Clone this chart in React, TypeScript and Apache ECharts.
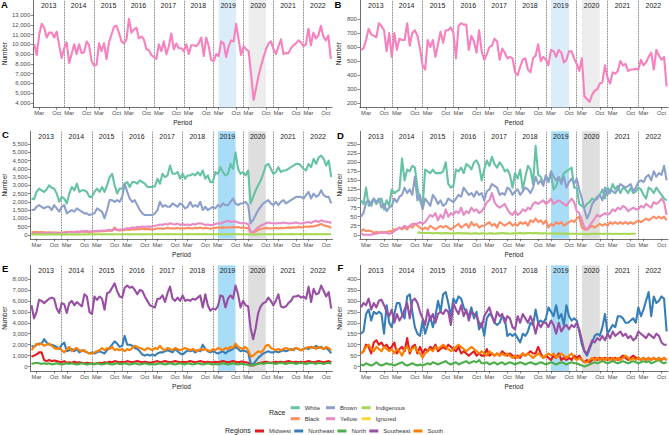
import React, { useEffect, useRef } from 'react';
import * as echarts from 'echarts';

// ---------- categories / tick labels ----------
const YEARS = ['2013', '2014', '2015', '2016', '2017', '2018', '2019', '2020', '2021', '2022'];
const MONTH_NAMES = ['Jan', 'Feb', 'Mar', 'Apr', 'May', 'Jun', 'Jul', 'Aug', 'Sep', 'Oct', 'Nov', 'Dec'];
const MONTH_TICK_NAMES = ['Mar', 'Oct'];
// period index: 0 = Jan 2013 ... 119 = Dec 2022
const PERIOD = YEARS.flatMap((_, y) => MONTH_NAMES.map((_, m) => y * 12 + m));
const MONTH_TICK_POS = YEARS.flatMap((_, y) => MONTH_TICK_NAMES.map((n) => y * 12 + MONTH_NAMES.indexOf(n)));
const MAR_POS = YEARS.map((_, y) => y * 12 + MONTH_NAMES.indexOf('Mar'));
const OCT_POS = YEARS.map((_, y) => y * 12 + MONTH_NAMES.indexOf('Oct'));
const YEAR_BOUNDS = YEARS.slice(1).map((_, k) => (k + 1) * 12);
const YEAR_CENTERS = YEARS.map((_, k) => k * 12 + 5.8);
const HL_2019 = [74, 81]; // Mar-Oct 2019
const HL_2020 = [86, 93]; // Mar-Oct 2020

const A_TICKS = [4000, 5000, 6000, 7000, 8000, 9000, 10000, 11000, 12000, 13000];
const B_TICKS = [200, 300, 400, 500, 600, 700, 800];
const C_TICKS = [0, 500, 1000, 1500, 2000, 2500, 3000, 3500, 4000, 4500, 5000, 5500];
const D_TICKS = [0, 25, 50, 75, 100, 125, 150, 175, 200, 225, 250];
const E_TICKS = [0, 1000, 2000, 3000, 4000, 5000, 6000, 7000, 8000];
const F_TICKS = [0, 50, 100, 150, 200, 250, 300, 350, 400];

// ---------- values ----------
const A_TOTAL = [
  10000, 8900, 11000, 12100, 11700, 10700, 11200, 11200, 10700, 11300, 9900, 8600,
  9600, 10200, 8100, 9000, 10000, 9000, 10000, 9100, 9200, 10300, 9900, 8300,
  7800, 7900, 10100, 9300, 10100, 8500, 10200, 11000, 11800, 11900, 11200, 10300,
  10100, 10500, 12600, 11200, 11500, 11700, 10600, 10800, 10500, 9500, 9400, 8900,
  8700, 8500, 10000, 9300, 10300, 9000, 9800, 11100, 9500, 10100, 9600, 9600,
  9300, 10000, 9000, 9900, 9900, 9800, 10100, 10700, 8800, 10700, 9800, 8400,
  8300, 9000, 8800, 10300, 10100, 8700, 9800, 10400, 10300, 12100, 10500, 8900,
  9800, 9500, 9300, 7000, 4300, 5500, 6800, 7800, 8700, 9500, 10100, 10300,
  9500, 9000, 9800, 10500, 9000, 9100, 9100, 9600, 9900, 10100, 10400, 10200,
  9800, 10000, 11600, 9900, 11200, 10600, 10900, 11900, 10800, 10400, 10900, 8500,
];
const B_TOTAL = [
  580, 590, 650, 730, 690, 680, 670, 770, 750, 720, 570, 700,
  530, 700, 580, 660, 650, 650, 770, 610, 700, 720, 680, 590,
  470, 440, 650, 600, 650, 530, 620, 710, 630, 720, 720, 740,
  700, 520, 750, 770, 760, 760, 580, 680, 640, 560, 720, 570,
  510, 550, 600, 610, 660, 640, 510, 590, 560, 520, 530, 520,
  420, 400, 460, 510, 520, 440, 420, 520, 540, 620, 500, 530,
  510, 470, 580, 570, 530, 580, 560, 490, 510, 570, 570, 520,
  480, 430, 520, 250, 230, 210, 260, 290, 300, 340, 350, 470,
  380, 340, 420, 410, 430, 500, 470, 480, 430, 440, 440, 445,
  440, 510, 470, 490, 530, 560, 440, 580, 540, 510, 530, 320,
];

const C_WHITE = [
  2200, 2150, 2600, 2800, 2700, 2600, 2750, 3000, 2850, 2800, 2500, 2000,
  2300, 2200, 1900, 2500, 2900, 2700, 3100, 2600, 2700, 2700, 2600, 2300,
  2300, 2600, 2800, 2600, 2900, 2600, 3000, 3500, 3700, 3000, 2500, 2800,
  2800, 3100, 3200, 2900, 3200, 3200, 3100, 3300, 3200, 3100, 2900, 2900,
  2900, 2950, 3400, 3100, 3700, 3500, 3600, 4200, 3700, 3700, 3800, 3400,
  3700, 3400, 3600, 3600, 3700, 3600, 3800, 3600, 3900, 3400, 3600, 3200,
  3200, 3800, 3700, 4100, 3800, 3600, 3700, 4300, 4000, 5000, 4000, 3700,
  3800, 3600, 3900, 1900, 2300, 2700, 3000, 3300, 3700, 4200, 4300, 4000,
  3700, 3800, 4100, 3800, 3900, 3900, 4000, 4100, 4200, 4300, 4300, 4200,
  4000, 3900, 4300, 4100, 4600, 4300, 4700, 4800, 4600, 4200, 4500, 3500,
];
const C_BLACK = [
  150, 160, 170, 150, 160, 150, 140, 150, 130, 140, 130, 120,
  130, 150, 160, 170, 180, 170, 190, 180, 200, 190, 180, 170,
  180, 200, 210, 200, 230, 220, 250, 260, 240, 450, 280, 260,
  280, 300, 320, 300, 340, 320, 350, 330, 380, 340, 360, 330,
  320, 350, 380, 400, 360, 380, 420, 380, 400, 380, 420, 360,
  400, 380, 420, 400, 380, 420, 400, 440, 380, 420, 400, 360,
  400, 420, 440, 420, 450, 430, 460, 440, 480, 450, 470, 430,
  450, 420, 400, 150, 130, 200, 300, 350, 380, 420, 400, 380,
  400, 420, 380, 420, 400, 430, 450, 420, 460, 440, 480, 450,
  470, 500, 480, 520, 500, 550, 600, 650, 580, 540, 500, 420,
];
const C_BROWN = [
  1500, 1500, 1700, 1800, 1700, 1600, 1700, 1700, 1500, 1800, 1600, 1400,
  1700, 1800, 1300, 1400, 1500, 1400, 1600, 1500, 1400, 1300, 1300, 1200,
  1250, 1300, 1600, 1500, 1400, 1000, 1500, 2100, 2100, 2000, 2100, 2000,
  2300, 3100, 2600, 2200, 2000, 2100, 1800, 1500, 1300, 1200, 1200, 1200,
  1200, 1300, 1500, 2000, 1700, 1800, 1700, 1700, 1900, 1800, 1700, 1900,
  1800, 1600, 1700, 2000, 1700, 1800, 1700, 2000, 1500, 1700, 1500, 1600,
  1700, 1600, 1800, 1700, 1900, 1800, 1800, 2000, 2200, 1900, 1800, 1900,
  1900, 2000, 1800, 700, 900, 1200, 1500, 1700, 1900, 2000, 2100, 1900,
  1800, 2000, 1800, 2000, 2100, 1900, 2000, 2100, 2200, 2300, 2300, 2300,
  2200, 2400, 2600, 2200, 2500, 2300, 2400, 2700, 2400, 2300, 2300, 1900,
];
const C_YELLOW = [
  50, 80, 100, 90, 110, 100, 120, 110, 100, 120, 100, 90,
  110, 120, 140, 150, 160, 170, 180, 170, 200, 210, 220, 200,
  210, 220, 250, 230, 260, 240, 280, 300, 280, 330, 300, 320,
  330, 350, 400, 380, 450, 420, 480, 450, 500, 470, 520, 480,
  500, 550, 580, 620, 600, 650, 620, 700, 650, 620, 680, 600,
  650, 600, 620, 580, 650, 620, 680, 700, 650, 600, 620, 580,
  600, 650, 700, 680, 750, 800, 850, 780, 820, 800, 750, 700,
  720, 700, 650, 200, 150, 300, 450, 550, 620, 700, 750, 720,
  700, 680, 720, 700, 750, 720, 680, 700, 720, 750, 700, 680,
  720, 750, 780, 720, 800, 850, 780, 880, 820, 800, 780, 700,
];
const C_INDIGENOUS = [
  20, 25, 20, 30, 25, 20, 25, 30, 20, 25, 30, 25,
  25, 30, 25, 20, 30, 25, 30, 25, 20, 30, 25, 30,
  30, 25, 35, 30, 25, 30, 35, 30, 25, 30, 35, 30,
  30, 35, 30, 25, 35, 30, 35, 30, 25, 30, 35, 30,
  30, 35, 40, 30, 35, 30, 40, 35, 30, 35, 30, 35,
  35, 30, 40, 35, 30, 35, 40, 35, 30, 40, 35, 30,
  35, 30, 35, 40, 35, 30, 35, 40, 35, 30, 35, 30,
  30, 35, 30, 15, 15, 20, 25, 30, 35, 30, 35, 30,
  35, 30, 35, 40, 35, 30, 35, 40, 35, 30, 35, 40,
  35, 40, 35, 30, 35, 40, 35, 30, 35, 40, 35, 30,
];
const C_IGNORED: number[] = [];

const D_WHITE = [
  95, 85, 130, 80, 90, 100, 85, 95, 100, 70, 95, 80,
  125, 115, 120, 125, 210, 150, 180, 175, 190, 185, 130, 95,
  75, 180, 175, 170, 180, 170, 170, 170, 175, 200, 140, 130,
  135, 180, 175, 185, 170, 195, 190, 180, 200, 205, 190, 150,
  180, 205, 190, 215, 195, 185, 200, 190, 175, 180, 165, 130,
  170, 155, 180, 125, 160, 190, 180, 140, 245, 165, 160, 140,
  160, 150, 165, 125, 135, 155, 150, 170, 175, 180, 185, 130,
  130, 85, 80, 75, 85, 90, 100, 95, 105, 110, 125, 100,
  130, 115, 140, 125, 135, 115, 130, 125, 115, 130, 115, 120,
  130, 125, 110, 100, 130, 125, 115, 130, 120, 110, 100, 95,
];
const D_BLACK = [
  10, 15, 10, 12, 10, 5, 8, 6, 8, 5, 8, 10,
  10, 15, 15, 20, 15, 20, 15, 25, 20, 30, 25, 20,
  15, 20, 15, 25, 20, 15, 20, 25, 20, 25, 20, 15,
  20, 25, 30, 20, 25, 30, 20, 35, 25, 30, 20, 25,
  25, 30, 35, 25, 30, 20, 35, 30, 25, 30, 35, 25,
  30, 25, 35, 30, 35, 25, 40, 35, 45, 35, 40, 30,
  40, 20, 30, 25, 35, 30, 35, 25, 30, 35, 40, 35,
  45, 50, 20, 15, 15, 20, 25, 20, 25, 30, 25, 30,
  25, 35, 30, 35, 30, 35, 30, 35, 30, 35, 30, 35,
  40, 35, 40, 45, 40, 45, 50, 45, 50, 45, 50, 40,
];
const D_BROWN = [
  50, 60, 90, 95, 80, 100, 90, 100, 75, 85, 65, 75,
  80, 100, 90, 105, 110, 130, 115, 125, 110, 160, 95, 110,
  70, 100, 90, 80, 110, 100, 85, 95, 80, 85, 100, 95,
  90, 100, 110, 105, 130, 120, 110, 115, 105, 120, 110, 115,
  95, 120, 125, 140, 135, 130, 110, 115, 110, 130, 125, 110,
  120, 125, 110, 120, 130, 125, 115, 130, 160, 140, 150, 135,
  165, 145, 175, 160, 150, 160, 140, 160, 130, 145, 155, 140,
  155, 125, 100, 70, 45, 60, 85, 95, 100, 110, 95, 130,
  110, 125, 120, 115, 125, 140, 135, 130, 135, 140, 120, 130,
  145, 150, 145, 160, 165, 150, 175, 160, 170, 165, 190, 150,
];
const D_YELLOW = [
  5, 0, 0, 0, 0, 2, 3, 5, 5, 8, 5, 3,
  5, 10, 15, 20, 18, 25, 20, 25, 30, 30, 30, 35,
  30, 35, 45, 55, 50, 60, 40, 55, 45, 70, 50, 60,
  55, 65, 60, 75, 55, 65, 60, 75, 65, 70, 60, 65,
  75, 90, 95, 115, 90, 80, 75, 80, 85, 70, 60, 55,
  65, 55, 60, 70, 65, 75, 70, 85, 90, 85, 90, 95,
  85, 90, 100, 85, 90, 95, 90, 85, 80, 90, 100, 90,
  65, 60, 40, 20, 15, 25, 35, 45, 55, 50, 55, 60,
  55, 60, 70, 65, 75, 70, 80, 75, 65, 70, 75, 70,
  70, 80, 75, 85, 80, 75, 90, 85, 90, 100, 90, 55,
];
const D_INDIGENOUS: (number | null)[] = [
  null, null, null, null, null, null, null, null, null, null, null, null,
  null, null, null, null, null, null, null, null, null, null, 6, 6,
  5, 5, 5, 5, 4, 5, 5, 4, 4, 5, 4, 4,
  4, 4, 5, 4, 4, 4, 4, 3, 4, 4, 3, 4,
  4, 3, 4, 4, 3, 4, 4, 5, 4, 4, 3, 4,
  4, 4, 5, 4, 4, 5, 5, 4, 5, 4, 4, 4,
  4, 3, 4, 4, 3, 4, 3, 3, 4, 3, 3, 3,
  3, 3, 3, 2, 2, 2, 3, 3, 2, 3, 3, 3,
  3, 3, 2, 3, 3, 2, 3, 3, 2, 3, 3, 3,
  null, null, null, null, null, null, null, null, null, null, null, null,
];

const E_MIDWEST = [
  900, 1000, 1100, 1300, 1300, 600, 500, 600, 500, 550, 500, 450,
  400, 500, 350, 400, 350, 450, 350, 400, 350, 300, 350, 300,
  300, 250, 300, 350, 300, 400, 350, 450, 400, 500, 450, 400,
  450, 400, 500, 450, 400, 450, 500, 450, 400, 450, 400, 350,
  400, 450, 500, 400, 450, 500, 450, 400, 450, 500, 450, 400,
  450, 400, 450, 500, 450, 400, 450, 500, 450, 400, 450, 400,
  400, 450, 400, 450, 500, 450, 400, 450, 500, 450, 400, 450,
  450, 400, 350, 100, 100, 200, 300, 350, 400, 450, 400, 350,
  400, 450, 400, 450, 400, 450, 500, 450, 400, 450, 400, 450,
  400, 450, 500, 450, 400, 450, 500, 450, 400, 450, 500, 400,
];
const E_NORTHEAST = [
  1900, 1800, 2000, 2100, 2100, 2500, 2200, 2000, 2000, 1900, 1800, 1600,
  2000, 2200, 1400, 1500, 1600, 1400, 1600, 1300, 1500, 1400, 1300, 1200,
  1300, 1200, 1300, 1400, 1300, 1200, 1500, 1700, 2000, 2300, 2100, 1800,
  1900, 2800, 2000, 2000, 1900, 1700, 1600, 1400, 1100, 1000, 1100, 1000,
  1100, 1000, 1200, 1300, 1300, 1400, 1500, 1400, 1300, 1600, 1400, 1200,
  1100, 1300, 1500, 1400, 1500, 1300, 1500, 1400, 2000, 1600, 1400, 1300,
  1400, 1300, 1200, 1300, 1400, 1200, 1400, 1500, 1600, 1800, 1600, 1400,
  1500, 1400, 1300, 300, 200, 500, 800, 1000, 1200, 1300, 1400, 1300,
  1300, 1400, 1300, 1400, 1500, 1400, 1500, 1600, 1500, 1700, 1600, 1500,
  1600, 1700, 1600, 1800, 1700, 1900, 1700, 1800, 1600, 1700, 1500, 1200,
];
const E_NORTH = [
  250, 300, 350, 300, 250, 300, 250, 300, 200, 250, 300, 250,
  200, 250, 300, 250, 300, 250, 200, 250, 300, 250, 200, 250,
  250, 200, 300, 250, 200, 250, 300, 250, 200, 250, 300, 250,
  250, 300, 250, 200, 250, 300, 250, 200, 250, 300, 250, 200,
  250, 200, 250, 300, 250, 200, 250, 300, 250, 200, 250, 300,
  250, 200, 300, 250, 200, 250, 300, 250, 200, 250, 300, 250,
  200, 250, 200, 250, 300, 250, 200, 250, 300, 250, 200, 250,
  250, 200, 150, 100, 150, 200, 250, 300, 250, 300, 350, 300,
  300, 250, 300, 350, 300, 250, 300, 350, 300, 250, 300, 350,
  300, 250, 300, 350, 300, 250, 350, 300, 250, 300, 350, 250,
];
const E_SOUTHEAST = [
  5600, 4400, 5000, 6100, 6000, 5800, 6000, 6200, 6300, 6200, 5300, 4900,
  5800, 5700, 4900, 5800, 6000, 5600, 5900, 5700, 5500, 6600, 6400, 5000,
  4800, 6400, 6100, 6400, 6200, 5200, 6700, 6800, 7200, 7600, 6900, 6400,
  6300, 7200, 7400, 7200, 7300, 7000, 6600, 7000, 6900, 6400, 6000, 5600,
  5500, 5400, 6200, 6200, 6500, 5900, 6700, 7300, 6200, 6000, 6300, 6000,
  6500, 6000, 6100, 6000, 6200, 6100, 6300, 6500, 5400, 6600, 5600, 5100,
  5300, 5200, 5500, 6500, 6400, 5400, 6200, 6500, 6200, 7400, 6600, 5400,
  6000, 5600, 5500, 3500, 2500, 3500, 4900, 5500, 5800, 5900, 6300, 6000,
  5600, 6000, 6600, 5500, 5400, 5500, 5800, 6000, 6400, 6400, 6500, 6300,
  6400, 6200, 7300, 5900, 7100, 6600, 6700, 7400, 6900, 6400, 6800, 5300,
];
const E_SOUTH = [
  1500, 1800, 2100, 2000, 2100, 1900, 2000, 2100, 1900, 1700, 1600, 1700,
  1500, 1300, 1600, 1800, 1400, 1600, 1700, 1500, 1400, 1500, 1300, 1200,
  1200, 1300, 1400, 1500, 1700, 1500, 1700, 1600, 1800, 1500, 1600, 1500,
  1600, 1400, 1600, 1500, 1700, 1900, 1800, 1700, 1600, 1500, 1700, 1600,
  1500, 1700, 1600, 1900, 1600, 1500, 1700, 1600, 1500, 1700, 1600, 1500,
  1600, 1700, 1600, 1500, 1600, 1500, 1400, 1600, 1500, 1600, 1500, 1400,
  1600, 1500, 1700, 1600, 1500, 1700, 1600, 1800, 1700, 2100, 1800, 1700,
  1600, 1800, 1500, 900, 1000, 1200, 1400, 1300, 1500, 1900, 2000, 1700,
  1600, 1500, 1600, 1500, 1600, 1700, 1600, 1500, 1600, 1700, 1600, 1500,
  1600, 1700, 1800, 1700, 1800, 1600, 1800, 1700, 1600, 1800, 1700, 1500,
];

const F_MIDWEST = [
  60, 70, 100, 90, 60, 110, 120, 100, 110, 90, 100, 80,
  90, 110, 60, 80, 90, 70, 130, 60, 90, 100, 60, 90,
  60, 80, 70, 90, 80, 100, 70, 80, 90, 80, 100, 90,
  80, 70, 90, 60, 70, 60, 50, 60, 70, 50, 60, 50,
  50, 80, 50, 60, 50, 60, 50, 70, 60, 50, 60, 50,
  40, 50, 40, 60, 50, 60, 70, 60, 60, 90, 60, 40,
  50, 40, 30, 50, 40, 60, 30, 40, 30, 40, 30, 50,
  40, 50, 30, 20, 30, 20, 30, 40, 30, 40, 30, 40,
  30, 40, 30, 40, 30, 40, 50, 40, 30, 40, 50, 40,
  40, 30, 40, 30, 40, 30, 40, 30, 40, 30, 40, 30,
];
const F_NORTHEAST = [
  150, 160, 240, 260, 210, 250, 240, 250, 240, 150, 280, 200,
  180, 240, 290, 290, 240, 220, 320, 330, 250, 180, 150, 140,
  210, 150, 190, 230, 180, 230, 300, 250, 330, 340, 290, 230,
  310, 290, 320, 310, 270, 250, 230, 270, 220, 250, 170, 200,
  140, 220, 240, 230, 200, 190, 200, 230, 220, 140, 150, 140,
  150, 130, 110, 150, 140, 160, 200, 190, 260, 200, 210, 200,
  220, 270, 250, 230, 280, 220, 240, 190, 280, 230, 210, 220,
  210, 160, 100, 70, 50, 80, 110, 140, 150, 140, 180, 240,
  150, 170, 190, 180, 230, 230, 220, 200, 200, 210, 220, 200,
  270, 230, 260, 300, 340, 230, 320, 290, 300, 320, 310, 160,
];
const F_NORTH = [
  10, 5, 15, 10, 5, 10, 20, 10, 5, 10, 15, 10,
  10, 5, 10, 15, 20, 10, 5, 10, 15, 10, 5, 10,
  5, 10, 15, 10, 20, 15, 10, 15, 20, 25, 15, 10,
  15, 20, 10, 15, 20, 25, 15, 20, 25, 20, 30, 15,
  15, 20, 10, 15, 20, 10, 15, 20, 10, 15, 20, 15,
  10, 15, 20, 15, 10, 15, 20, 15, 10, 15, 20, 15,
  10, 15, 20, 15, 10, 15, 20, 15, 10, 15, 20, 15,
  15, 10, 5, 0, 5, 10, 15, 20, 15, 20, 25, 20,
  15, 20, 25, 20, 15, 20, 25, 20, 15, 20, 25, 20,
  15, 20, 25, 20, 25, 15, 20, 25, 30, 20, 15, 20,
];
const F_SOUTHEAST = [
  270, 290, 280, 310, 260, 290, 270, 300, 305, 280, 250, 230,
  260, 200, 240, 210, 230, 260, 290, 220, 300, 310, 290, 250,
  220, 190, 260, 210, 240, 200, 240, 250, 240, 260, 250, 190,
  290, 260, 240, 280, 230, 260, 210, 250, 240, 230, 200, 180,
  230, 250, 270, 230, 200, 250, 230, 240, 200, 230, 220, 180,
  170, 230, 200, 240, 220, 200, 230, 200, 150, 200, 180, 200,
  200, 180, 210, 190, 150, 200, 160, 180, 190, 170, 190, 180,
  200, 170, 120, 70, 60, 90, 120, 110, 130, 120, 140, 120,
  150, 130, 160, 140, 150, 160, 140, 150, 130, 140, 120, 130,
  160, 150, 140, 130, 150, 140, 130, 150, 140, 110, 100, 100,
];
const F_SOUTH = [
  60, 70, 90, 100, 80, 70, 90, 80, 70, 90, 80, 70,
  80, 60, 80, 70, 50, 80, 90, 70, 80, 90, 70, 60,
  40, 60, 70, 80, 70, 90, 80, 90, 100, 90, 80, 70,
  80, 90, 100, 90, 80, 70, 80, 90, 80, 70, 60, 70,
  60, 50, 70, 60, 50, 60, 50, 60, 50, 60, 50, 40,
  50, 40, 50, 60, 50, 60, 50, 40, 50, 60, 50, 40,
  50, 60, 50, 60, 40, 50, 60, 50, 40, 50, 60, 40,
  30, 40, 30, 20, 20, 30, 40, 30, 40, 30, 40, 30,
  40, 30, 40, 30, 40, 30, 40, 50, 40, 30, 40, 30,
  40, 30, 40, 30, 40, 30, 40, 30, 40, 30, 40, 30,
];

// ---------- styles ----------
const FONT = '"Liberation Sans", Arial, Helvetica, sans-serif';
const PINK = '#f781bf';
const RACE_COLORS: Record<string, string> = {
  White: '#66c2a5', Black: '#fc8d62', Brown: '#8da0cb', Yellow: '#e78ac3', Indigenous: '#a6d854', Ignored: '#ffd92f',
};
const REGION_COLORS: Record<string, string> = {
  Midwest: '#e41a1c', Northeast: '#377eb8', North: '#4daf4a', Southeast: '#984ea3', South: '#ff7f00',
};

type Panel = {
  letter: string;
  grid: { left: number; top: number; width: number; height: number };
  ymin: number; ymax: number; ticks: number[];
  nameGap: number; light: boolean;
  series: { name: string; data: (number | null)[]; color: string }[];
};

const LEFT_X = { left: 31.6, width: 300.5 };
const LEFT_X2 = { left: 29.5, width: 303 };
const RIGHT_X = { left: 359.9, width: 310 };

const PANELS: Panel[] = [
  { letter: 'A', grid: { ...LEFT_X, top: 0, height: 107.3 }, ymin: 3560, ymax: 14534, ticks: A_TICKS, nameGap: 24.5, light: true,
    series: [{ name: 'Total A', data: A_TOTAL, color: PINK }] },
  { letter: 'B', grid: { ...RIGHT_X, top: 0, height: 107.3 }, ymin: 171.5, ymax: 935, ticks: B_TICKS, nameGap: 17.5, light: true,
    series: [{ name: 'Total B', data: B_TOTAL, color: PINK }] },
  { letter: 'C', grid: { ...LEFT_X2, top: 131.3, height: 107.5 }, ymin: -243, ymax: 6276, ticks: C_TICKS, nameGap: 22.5, light: false,
    series: [
      { name: 'White', data: C_WHITE, color: RACE_COLORS.White },
      { name: 'Black', data: C_BLACK, color: RACE_COLORS.Black },
      { name: 'Brown', data: C_BROWN, color: RACE_COLORS.Brown },
      { name: 'Yellow', data: C_YELLOW, color: RACE_COLORS.Yellow },
      { name: 'Indigenous', data: C_INDIGENOUS, color: RACE_COLORS.Indigenous },
      { name: 'Ignored', data: C_IGNORED, color: RACE_COLORS.Ignored },
    ] },
  { letter: 'D', grid: { ...RIGHT_X, top: 131.3, height: 107.5 }, ymin: -11, ymax: 285.3, ticks: D_TICKS, nameGap: 17, light: false,
    series: [
      { name: 'White', data: D_WHITE, color: RACE_COLORS.White },
      { name: 'Black', data: D_BLACK, color: RACE_COLORS.Black },
      { name: 'Brown', data: D_BROWN, color: RACE_COLORS.Brown },
      { name: 'Yellow', data: D_YELLOW, color: RACE_COLORS.Yellow },
      { name: 'Indigenous', data: D_INDIGENOUS, color: RACE_COLORS.Indigenous },
    ] },
  { letter: 'E', grid: { ...LEFT_X2, top: 265.3, height: 105.7 }, ymin: -402, ymax: 9251, ticks: E_TICKS, nameGap: 22.5, light: false,
    series: [
      { name: 'Midwest', data: E_MIDWEST, color: REGION_COLORS.Midwest },
      { name: 'Northeast', data: E_NORTHEAST, color: REGION_COLORS.Northeast },
      { name: 'North', data: E_NORTH, color: REGION_COLORS.North },
      { name: 'Southeast', data: E_SOUTHEAST, color: REGION_COLORS.Southeast },
      { name: 'South', data: E_SOUTH, color: REGION_COLORS.South },
    ] },
  { letter: 'F', grid: { ...RIGHT_X, top: 265.3, height: 105.7 }, ymin: -20, ymax: 462, ticks: F_TICKS, nameGap: 17, light: false,
    series: [
      { name: 'Midwest', data: F_MIDWEST, color: REGION_COLORS.Midwest },
      { name: 'Northeast', data: F_NORTHEAST, color: REGION_COLORS.Northeast },
      { name: 'North', data: F_NORTH, color: REGION_COLORS.North },
      { name: 'Southeast', data: F_SOUTHEAST, color: REGION_COLORS.Southeast },
      { name: 'South', data: F_SOUTH, color: REGION_COLORS.South },
    ] },
];

const LETTER_POS: Record<string, [number, number]> = {
  A: [1, -1], B: [334.5, -1], C: [2, 129.5], D: [337, 130.5], E: [2, 263.5], F: [337.5, 262.5],
};

function buildOption() {
  const grid: any[] = [];
  const xAxis: any[] = [];
  const yAxis: any[] = [];
  const series: any[] = [];
  const XMIN = -0.4, XMAX = 119.5;
  const monthLabel = {
    hideOverlap: false, showMinLabel: true, showMaxLabel: true,
    formatter: (v: number) => MONTH_NAMES[((Math.round(v) % 12) + 12) % 12],
    fontSize: 5.8, color: '#4d4d4d', margin: 3, fontFamily: FONT,
  };

  PANELS.forEach((p, i) => {
    grid.push({ ...p.grid, containLabel: false });
    // bottom axis 1: line, all ticks, "Mar" labels, axis title
    xAxis.push({
      type: 'value', gridIndex: i, min: XMIN, max: XMAX, position: 'bottom',
      splitLine: { show: false },
      axisLine: { show: true, onZero: false, lineStyle: { color: '#333', width: 0.7 } },
      axisTick: { show: true, length: 2.5, customValues: MONTH_TICK_POS, lineStyle: { color: '#333', width: 0.6 } },
      axisLabel: { ...monthLabel, customValues: MAR_POS },
      name: 'Period', nameLocation: 'middle', nameGap: 12,
      nameTextStyle: { fontSize: 6.5, color: '#222', fontFamily: FONT },
    });
    // top axis: year strip labels
    xAxis.push({
      type: 'value', gridIndex: i, min: XMIN, max: XMAX, position: 'top', z: 5,
      splitLine: { show: false }, axisLine: { show: false }, axisTick: { show: false },
      axisLabel: {
        inside: true, customValues: YEAR_CENTERS, margin: 1.5, hideOverlap: false,
        formatter: (v: number) => YEARS[Math.round((v - 5.8) / 12)] ?? '',
        fontSize: 7, color: '#1a1a1a', fontFamily: FONT,
      },
    });
    // bottom axis 2: "Oct" labels only
    xAxis.push({
      type: 'value', gridIndex: i, min: XMIN, max: XMAX, position: 'bottom', offset: 0,
      splitLine: { show: false }, axisLine: { show: false, onZero: false }, axisTick: { show: false },
      axisLabel: { ...monthLabel, customValues: OCT_POS },
    });
    yAxis.push({
      type: 'value', gridIndex: i, min: p.ymin, max: p.ymax,
      splitLine: { show: false },
      axisLine: { show: true, onZero: false, lineStyle: { color: '#333', width: 0.7 } },
      axisTick: { show: true, length: 2.5, customValues: p.ticks, lineStyle: { color: '#333', width: 0.6 } },
      axisLabel: {
        customValues: p.ticks, formatter: (v: number) => v.toLocaleString('en-US'),
        fontSize: 6, color: '#4d4d4d', margin: 3, fontFamily: FONT,
      },
      name: 'Number', nameLocation: 'middle', nameGap: p.nameGap,
      nameTextStyle: { fontSize: 6.5, color: '#222', fontFamily: FONT },
    });

    const blue = p.light ? '#dcedfa' : '#a9dcf6';
    const gray = p.light ? '#ededed' : '#dedede';

    p.series.forEach((s, k) => {
      const item: any = {
        type: 'line', name: s.name, xAxisIndex: i * 3, yAxisIndex: i,
        data: s.data.map((v, j) => [PERIOD[j], v]),
        showSymbol: false, symbol: 'none', connectNulls: false, silent: true,
        color: s.color,
        itemStyle: { color: s.color },
        lineStyle: { color: s.color, width: 2.1, cap: 'butt', join: 'round' },
        z: 2,
      };
      if (k === 0) {
        item.markArea = {
          silent: true, z: 1, label: { show: false },
          data: [
            [{ xAxis: HL_2019[0], itemStyle: { color: blue } }, { xAxis: HL_2019[1] }],
            [{ xAxis: HL_2020[0], itemStyle: { color: gray } }, { xAxis: HL_2020[1] }],
          ],
        };
        item.markLine = {
          silent: true, z: 1.5, symbol: ['none', 'none'], label: { show: false },
          lineStyle: { type: 'dotted', color: '#444', width: 0.8 },
          emphasis: { disabled: true },
          data: YEAR_BOUNDS.map((x) => ({ xAxis: x })),
        };
      }
      series.push(item);
    });
  });

  const legendText = { fontSize: 6, color: '#333', fontFamily: FONT, lineHeight: 7 };
  const legendBase = {
    orient: 'vertical', itemWidth: 9, itemHeight: 3, itemGap: 4, icon: 'rect', padding: 0,
    selectedMode: false, textStyle: legendText,
  };
  const legend = [
    { ...legendBase, data: ['White', 'Black'], left: 290.7, top: 404.2 },
    { ...legendBase, data: ['Brown', 'Yellow'], left: 326, top: 404.2 },
    { ...legendBase, data: ['Indigenous', 'Ignored'], left: 361.7, top: 404.2 },
    { ...legendBase, orient: 'horizontal', itemGap: 3.2, data: ['Midwest', 'Northeast', 'North', 'Southeast', 'South'], left: 255, top: 427.5 },
  ];

  const graphic: any[] = PANELS.map((p) => ({
    type: 'text', left: LETTER_POS[p.letter][0], top: LETTER_POS[p.letter][1], silent: true,
    style: { text: p.letter, fontSize: 9.5, fontWeight: 'bold', fill: '#000', fontFamily: FONT },
  }));
  graphic.push({
    type: 'text', left: 269, top: 409.3, silent: true,
    style: { text: 'Race', fontSize: 7, fill: '#222', fontFamily: FONT },
  });
  graphic.push({
    type: 'text', left: 225, top: 427, silent: true,
    style: { text: 'Regions', fontSize: 7, fill: '#222', fontFamily: FONT },
  });

  return {
    animation: false,
    backgroundColor: '#ffffff',
    textStyle: { fontFamily: FONT },
    grid, xAxis, yAxis, series, legend, graphic,
  };
}

export default function App() {
  const ref = useRef<HTMLDivElement>(null);
  useEffect(() => {
    if (!ref.current) return;
    const chart = echarts.init(ref.current, undefined, { renderer: 'svg' });
    chart.setOption(buildOption() as any);
    return () => chart.dispose();
  }, []);
  return (
    <div
      ref={ref}
      style={{ position: 'absolute', left: 0, top: 0, width: 669, height: 435, background: '#fff' }}
    />
  );
}
